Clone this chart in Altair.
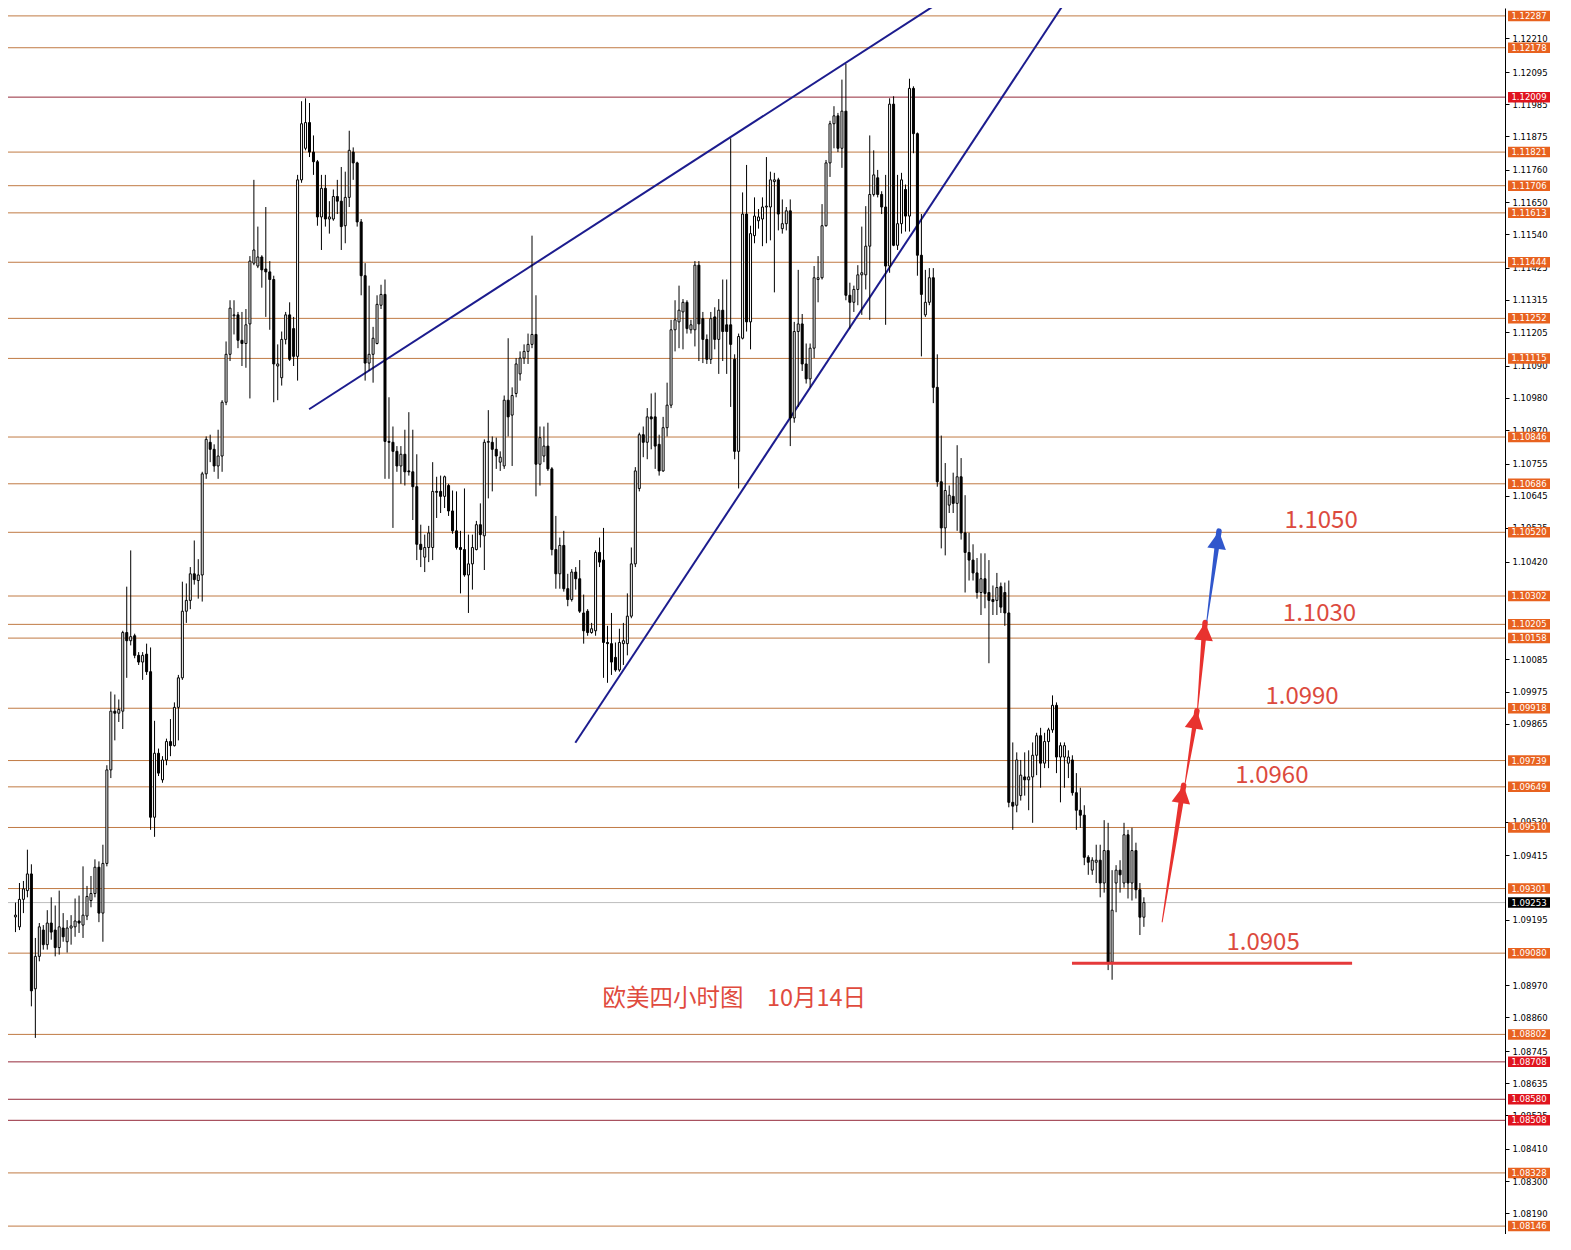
import math
import altair as alt
import pandas as pd

# ---------------- data (prices in points, 1 point = 0.00001) ----------------
OPEN_PTS = [
109204,109170,109264,109294,109351,108958,109069,109159,109109,109183,
109159,109099,109166,109119,109166,109170,109190,109176,109207,109260,
109284,109374,109217,109387,109707,109908,109901,109908,110177,110149,
110166,110099,110076,110103,110043,109545,109764,109673,109741,109804,
109790,109921,110022,110250,110287,110378,110355,110374,110720,110828,
110804,110747,110781,110965,111129,111261,111264,111177,111166,111233,
111441,111431,111462,111421,111411,111385,111089,111049,111180,111264,
111217,111122,111726,111834,111922,111821,111788,111599,111697,111592,
111592,111669,111653,111569,111666,111821,111784,111582,111398,111099,
111129,111166,111297,111334,110831,110828,110797,110747,110787,110730,
110727,110676,110479,110435,110468,110468,110660,110660,110643,110680,
110593,110525,110468,110461,110374,110412,110461,110546,110508,110828,
110828,110804,110760,110747,110972,110921,110995,111062,111116,111139,
111163,111197,110753,110781,110815,110737,110461,110378,110475,110327,
110290,110384,110361,110244,110250,110177,110183,110451,110425,110143,
110139,110092,110049,110139,110139,110233,110412,110670,110854,110828,
110915,110915,110821,110730,110878,110955,111213,111240,111274,111307,
111213,111213,111434,111251,111180,111112,111257,111180,111280,111230,
111230,111112,110797,111184,111609,111240,111535,111586,111592,111633,
111633,111720,111726,111559,111576,111620,110911,111207,111233,111096,
111045,111150,111385,111391,111569,111784,111918,111945,111834,111961,
111331,111307,111351,111401,111401,111499,111676,111733,111676,111633,
111431,111985,111502,111576,111693,111602,112039,111884,111468,111264,
111307,111391,111016,110693,110535,110613,110643,110619,110710,110518,
110451,110425,110381,110314,110361,110314,110290,110287,110334,110314,
110244,109596,109586,109619,109683,109673,109683,109757,109824,109730,
109804,109844,109928,109751,109751,109730,109741,109629,109569,109552,
109408,109364,109391,109398,109320,109431,109049,109320,109364,109320,
109485,109320,109431,109297,109203]

HIGH_PTS = [
109253,109320,109327,109434,109384,109132,109183,109176,109227,109271,
109243,109294,109217,109193,109210,109267,109277,109377,109310,109344,
109401,109394,109451,109723,109975,109965,109948,110183,110334,110458,
110173,110110,110110,110139,110126,109875,109780,109754,109814,109881,
109938,110032,110351,110345,110401,110492,110428,110727,110848,110854,
110821,110871,110972,111173,111314,111314,111274,111274,111284,111465,
111726,111566,111468,111633,111448,111398,111163,111207,111274,111307,
111257,111743,111995,112005,111989,111878,111794,111743,111743,111653,
111693,111726,111770,111754,111894,111837,111788,111592,111441,111364,
111223,111331,111367,111385,110982,110882,110815,110815,110871,110931,
110871,110787,110546,110512,110542,110760,110710,110714,110714,110686,
110663,110660,110525,110670,110512,110512,110559,110619,110838,110938,
110848,110844,110797,110988,111184,111016,111116,111139,111163,111200,
111535,111331,110882,110882,110895,110743,110576,110502,110525,110378,
110394,110401,110425,110307,110257,110210,110458,110502,110535,110200,
110244,110143,110190,110210,110311,110468,110743,110861,110882,110945,
110995,110998,110854,110915,111032,111247,111314,111364,111318,111314,
111247,111448,111448,111274,111197,111274,111290,111318,111385,111385,
111868,111129,111200,111683,111777,111569,111666,111626,111666,111804,
111754,111750,111733,111659,111633,111659,111240,111418,111267,111166,
111166,111431,111465,111643,111794,111928,111978,111955,112069,112123,
111374,111364,111434,111566,111636,111878,111827,111760,111687,111743,
112005,112012,111743,111750,111710,112072,112046,111888,111609,111418,
111424,111424,111129,110851,110757,110680,110724,110818,110774,110647,
110518,110479,110432,110448,110448,110425,110338,110381,110348,110348,
110355,109801,109767,109741,109767,109774,109801,109834,109851,109834,
109851,109962,109938,109801,109801,109774,109757,109696,109646,109586,
109415,109408,109451,109451,109535,109526,109364,109381,109398,109526,
109502,109509,109458,109320,109271]

LOW_PTS = [
109152,109159,109217,109271,108898,108790,109052,109092,109092,109126,
109069,109075,109119,109082,109109,109136,109149,109132,109193,109237,
109271,109186,109119,109377,109679,109808,109871,109847,110022,110133,
110089,110066,110015,110032,109502,109478,109686,109663,109723,109754,
109787,109808,110015,110210,110257,110341,110293,110283,110703,110760,
110727,110703,110727,110955,111106,111197,111150,111089,111083,110978,
111434,111424,111357,111257,111213,110965,110972,111022,111163,111106,
111089,111039,111716,111827,111804,111743,111569,111486,111566,111542,
111586,111609,111486,111509,111633,111726,111566,111331,111039,111072,
111032,111163,111284,110703,110703,110535,110727,110686,110680,110714,
110562,110425,110401,110384,110418,110425,110569,110586,110603,110576,
110515,110461,110311,110368,110244,110324,110458,110468,110391,110636,
110660,110737,110730,110737,110848,110747,110982,111039,111096,111096,
111150,110643,110680,110760,110730,110441,110327,110327,110317,110267,
110283,110324,110244,110139,110166,110173,110166,110401,110022,110005,
110032,110043,110043,110066,110099,110226,110401,110660,110777,110770,
110804,110737,110714,110727,110848,110945,111139,111150,111146,111200,
111200,111156,111106,111099,111096,111096,111146,111062,111106,111062,
110949,110770,110670,111180,111207,111146,111509,111559,111499,111509,
111519,111341,111553,111542,111553,110815,110895,110949,111072,111029,
111016,111116,111307,111385,111566,111736,111834,111821,111767,111314,
111217,111274,111297,111264,111351,111247,111669,111666,111609,111230,
111408,111499,111486,111542,111549,111549,111817,111398,111122,111257,
111297,110962,110676,110465,110441,110586,110586,110525,110495,110314,
110355,110355,110293,110237,110260,110072,110237,110237,110244,110200,
109579,109502,109562,109602,109619,109569,109526,109689,109646,109713,
109713,109834,109696,109596,109646,109679,109619,109502,109509,109381,
109348,109348,109320,109271,109287,109022,108989,109220,109287,109304,
109267,109260,109267,109142,109170]

CLOSE_PTS = [
109210,109264,109300,109351,108951,109069,109170,109109,109183,109152,
109099,109170,109136,109166,109173,109190,109183,109210,109274,109284,
109374,109217,109387,109707,109908,109901,109914,110177,110149,110163,
110099,110076,110099,110043,109545,109764,109696,109741,109804,109790,
109921,110022,110250,110287,110378,110358,110374,110720,110838,110804,
110747,110781,110965,111129,111287,111264,111177,111166,111230,111448,
111486,111462,111418,111411,111385,111096,111096,111180,111264,111112,
111122,111726,111918,111922,111821,111788,111599,111697,111592,111599,
111669,111653,111566,111666,111827,111784,111582,111398,111099,111129,
111184,111300,111334,110831,110828,110797,110747,110787,110727,110727,
110676,110479,110461,110468,110518,110660,110657,110643,110710,110593,
110525,110468,110461,110374,110412,110468,110546,110512,110828,110831,
110804,110781,110777,110972,110915,110988,111096,111116,111139,111163,
111197,110753,110844,110815,110737,110461,110378,110475,110327,110290,
110384,110361,110250,110183,110177,110190,110451,110418,110143,110139,
110076,110049,110143,110149,110233,110412,110730,110854,110828,110915,
110908,110815,110730,110878,110955,111213,111247,111280,111307,111217,
111230,111434,111233,111180,111112,111251,111180,111280,111207,111207,
111163,110797,111190,111609,111240,111542,111602,111599,111633,111636,
111726,111726,111609,111576,111620,110911,111207,111233,111096,111045,
111150,111391,111391,111569,111784,111918,111945,111834,111961,111331,
111307,111351,111401,111408,111499,111676,111743,111676,111633,111431,
111985,111502,111576,111726,111602,112039,111884,111468,111334,111307,
111391,111016,110693,110535,110663,110647,110619,110710,110518,110451,
110425,110381,110314,110361,110311,110287,110283,110331,110264,110244,
109596,109583,109741,109689,109673,109683,109757,109824,109730,109804,
109844,109928,109751,109790,109790,109751,109629,109569,109552,109408,
109391,109398,109398,109320,109431,109049,109227,109364,109348,109485,
109320,109431,109297,109203,109253]

LEVELS = [1.12287, 1.12178, 1.12009, 1.11821, 1.11706, 1.11613, 1.11444, 1.11252,
          1.11115, 1.10846, 1.10686, 1.10520, 1.10302, 1.10205, 1.10158, 1.09918,
          1.09739, 1.09649, 1.09510, 1.09301, 1.09080, 1.08802, 1.08708, 1.08580,
          1.08508, 1.08328, 1.08146]
LEVEL_RED = [0, 0, 1, 0, 0, 0, 0, 0, 0, 0, 0, 0, 0, 0, 0, 0, 0, 0, 0, 0, 0, 0,
             1, 1, 1, 0, 0]
CURRENT_PRICE = 1.09253

# price-scale ticks that are visible (those fully hidden behind level boxes omitted)
AXIS_TICKS = [1.12210, 1.12095, 1.11985, 1.11875, 1.11760, 1.11650, 1.11540,
              1.11425, 1.11315, 1.11205, 1.11090, 1.10980, 1.10870, 1.10755,
              1.10645, 1.10535, 1.10420, 1.10085, 1.09975,
              1.09865, 1.09530, 1.09415, 1.09195,
              1.08970, 1.08860, 1.08745, 1.08635, 1.08525, 1.08410,
              1.08300, 1.08190]

TREND_ID = ["upper", "upper", "lower", "lower"]
TREND_I = [73.9, 231.0, 140.9, 263.5]
TREND_P = [1.10941, 1.12320, 1.09800, 1.12321]

ARROW_START_I = [288.6, 294.4, 297.5, 299.85]
ARROW_START_P = [1.09187, 1.09663, 1.09915, 1.10217]
ARROW_END_I = [294.0, 297.35, 299.4, 302.9]
ARROW_END_P = [1.09654, 1.09909, 1.10211, 1.10524]
ARROW_COLOR = ["#E8322F", "#E8322F", "#E8322F", "#3157CC"]

SUPPORT_I = [265.9, 336.4]
SUPPORT_P = 1.09045

TARGET_TEXT = ["1.1050", "1.1030", "1.0990", "1.0960", "1.0905"]
TARGET_I = [328.6, 328.2, 323.8, 316.2, 314.0]
TARGET_P = [1.10557, 1.10242, 1.09956, 1.09686, 1.09116]

TITLE_TEXT = "欧美四小时图\u300010月14日"
TITLE_I = 180.9
TITLE_P = 1.08924

# ---------------- layout ----------------
W = 1497
H = 1226
X_DOMAIN = [-0.625, -0.625 + W / 4.0]
Y_DOMAIN = [1.08119, 1.12314]
xs = alt.Scale(domain=X_DOMAIN, nice=False, zero=False)
ys = alt.Scale(domain=Y_DOMAIN, nice=False, zero=False)
PX_PER_I = W / (X_DOMAIN[1] - X_DOMAIN[0])
PX_PER_P = H / (Y_DOMAIN[1] - Y_DOMAIN[0])

n = len(CLOSE_PTS)
rows = []
for k in range(n):
    o = OPEN_PTS[k] / 1e5
    c = CLOSE_PTS[k] / 1e5
    h = max(HIGH_PTS[k] / 1e5, o, c)
    l = min(LOW_PTS[k] / 1e5, o, c)
    rows.append({"i": k, "o": o, "c": c, "hi": h, "lo": l})
cdf = pd.DataFrame(rows)

yaxis = alt.Axis(orient="right", values=AXIS_TICKS, format=".5f", title=None,
                 grid=False, labelFont="DejaVu Sans", labelFontSize=8.5,
                 labelColor="#000000", tickColor="#000000", tickSize=4,
                 domainColor="#000000", domainWidth=1, labelPadding=3,
                 labelOverlap=False, labelFlush=False)


def X(f):
    return alt.X(f, scale=xs, axis=None, title=None)


def Y(f):
    return alt.Y(f, scale=ys, axis=yaxis, title=None)


# level lines
ldf = pd.DataFrame({"p": LEVELS,
                    "col": ["#952A3A" if r else "#C07A44" for r in LEVEL_RED],
                    "box": ["#E0141E" if r else "#E8621F" for r in LEVEL_RED],
                    "lab": ["%.5f" % v for v in LEVELS]})
levels = alt.Chart(ldf).mark_rule(strokeWidth=1).encode(
    y=Y("p:Q"),
    color=alt.Color("col:N", scale=None, legend=None))

cur_df = pd.DataFrame({"p": [CURRENT_PRICE], "lab": ["%.5f" % CURRENT_PRICE],
                       "box": ["#000000"]})
current = alt.Chart(cur_df).mark_rule(strokeWidth=1, color="#BDBDBD").encode(
    y=Y("p:Q"))

tdf = pd.DataFrame({"id": TREND_ID, "i": TREND_I, "p": TREND_P})
trends = alt.Chart(tdf).mark_line(color="#1C1C8E", strokeWidth=2, clip=True).encode(
    x=X("i:Q"), y=Y("p:Q"), detail="id:N")

wicks = alt.Chart(cdf).mark_rule(color="#000000", strokeWidth=1).encode(
    x=X("i:Q"), y=Y("lo:Q"), y2="hi:Q")

bodies = alt.Chart(cdf).mark_bar(size=2, stroke="#000000", strokeWidth=1).encode(
    x=X("i:Q"), y=Y("o:Q"), y2="c:Q",
    fill=alt.condition("datum.c >= datum.o", alt.value("#FFFFFF"), alt.value("#000000")))

sdf = pd.DataFrame({"i": [SUPPORT_I[0]], "i2": [SUPPORT_I[1]], "p": [SUPPORT_P]})
support = alt.Chart(sdf).mark_rule(color="#E5393A", strokeWidth=3).encode(
    x=X("i:Q"), x2="i2:Q", y=Y("p:Q"))

arows = []
hrows = []
for k in range(len(ARROW_START_I)):
    arows.append({"seg": k, "ord": 0, "i": ARROW_START_I[k], "p": ARROW_START_P[k],
                  "w": 1.0, "col": ARROW_COLOR[k]})
    arows.append({"seg": k, "ord": 1, "i": ARROW_END_I[k], "p": ARROW_END_P[k],
                  "w": 5.5, "col": ARROW_COLOR[k]})
    dx = (ARROW_END_I[k] - ARROW_START_I[k]) * PX_PER_I
    dy = (ARROW_END_P[k] - ARROW_START_P[k]) * PX_PER_P
    ang = math.degrees(math.atan2(dx, dy)) % 360
    hrows.append({"i": ARROW_END_I[k], "p": ARROW_END_P[k], "ang": ang,
                  "col": ARROW_COLOR[k]})
adf = pd.DataFrame(arows)
hdf = pd.DataFrame(hrows)
shafts = alt.Chart(adf).mark_trail().encode(
    x=X("i:Q"), y=Y("p:Q"),
    size=alt.Size("w:Q", scale=None, legend=None),
    color=alt.Color("col:N", scale=None, legend=None),
    detail="seg:N", order="ord:Q")
heads = alt.Chart(hdf).mark_point(shape="M0,0L0.55,1.05L-0.55,1.05Z", size=1156,
                                  filled=True, opacity=1, strokeWidth=0).encode(
    x=X("i:Q"), y=Y("p:Q"),
    angle=alt.Angle("ang:Q", scale=None),
    color=alt.Color("col:N", scale=None, legend=None))

txdf = pd.DataFrame({"t": TARGET_TEXT, "i": TARGET_I, "p": TARGET_P})
targets = alt.Chart(txdf).mark_text(font="Noto Sans CJK SC", fontSize=24,
                                    color="#DC4A3E", align="center",
                                    baseline="middle").encode(
    x=X("i:Q"), y=Y("p:Q"), text="t:N")

ttdf = pd.DataFrame({"t": [TITLE_TEXT], "i": [TITLE_I], "p": [TITLE_P]})
title = alt.Chart(ttdf).mark_text(font="Noto Sans CJK SC", fontSize=23.5,
                                  color="#E04B3E", align="center",
                                  baseline="middle").encode(
    x=X("i:Q"), y=Y("p:Q"), text="t:N")

bdf = pd.concat([ldf[["p", "lab", "box"]], cur_df], ignore_index=True)
boxes = alt.Chart(bdf).mark_point(shape="M-1,-0.25L1,-0.25L1,0.25L-1,0.25Z",
                                  size=1764, filled=True, opacity=1,
                                  strokeWidth=0, clip=False).encode(
    x=alt.value(W + 24), y=Y("p:Q"),
    color=alt.Color("box:N", scale=None, legend=None))
box_text = alt.Chart(bdf).mark_text(font="DejaVu Sans", fontSize=8.5,
                                    color="#FFFFFF", align="center",
                                    baseline="middle", clip=False).encode(
    x=alt.value(W + 24), y=Y("p:Q"), text="lab:N")

chart = alt.layer(
    levels, current, trends, wicks, bodies, support, shafts, heads,
    targets, title, boxes, box_text
).properties(
    width=W, height=H,
    autosize=alt.AutoSizeParams(type="none"),
    padding={"left": 0, "top": 0, "right": 52, "bottom": 0},
    background="#FFFFFF"
).configure_view(strokeWidth=0)

chart.save("out.html", embed_options={"renderer": "svg", "actions": False})
